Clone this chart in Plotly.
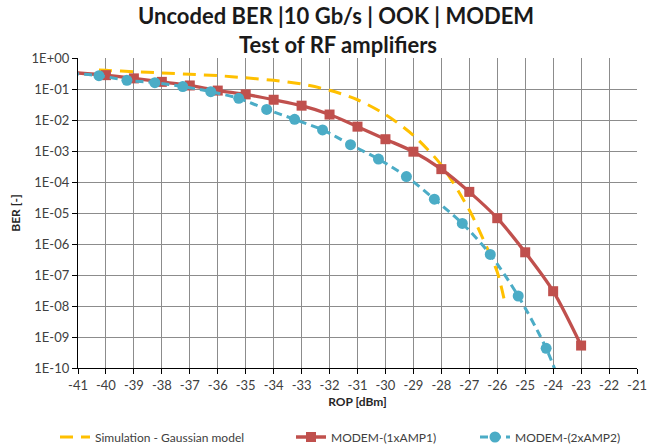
import plotly.graph_objects as go

# ---------------- data ----------------
sim_x = [-40.25, -40, -39, -38, -37, -36, -35, -34, -33, -32, -31, -30, -29, -28, -27, -26.5, -26, -25.75]
sim_y = [0.41, 0.40, 0.36, 0.33, 0.30, 0.27, 0.23, 0.19, 0.145, 0.091, 0.045, 0.015, 3.2e-3, 3.5e-4,
         1.25e-5, 1.4e-6, 1.25e-7, 1.6e-8]

amp1_x = [-41.25, -40, -39, -38, -37, -36, -35, -34, -33, -32, -31, -30, -29, -28, -27, -26, -25, -24, -23]
amp1_y = [0.34, 0.28, 0.22, 0.17, 0.13, 0.089, 0.067, 0.045, 0.029, 0.015, 6.1e-3, 2.4e-3, 9.5e-4,
          2.6e-4, 4.8e-5, 6.8e-6, 5.4e-7, 3.0e-8, 5.3e-10]

amp2_x = [-41.25, -40.25, -39.25, -38.25, -37.25, -36.25, -35.25, -34.25, -33.25, -32.25, -31.25,
          -30.25, -29.25, -28.25, -27.25, -26.25, -25.25, -24.25, -23.25]
amp2_y = [0.32, 0.27, 0.19, 0.16, 0.12, 0.082, 0.05, 0.022, 0.0105, 4.8e-3, 1.6e-3, 5.5e-4, 1.5e-4,
          2.8e-5, 4.6e-6, 4.6e-7, 2.1e-8, 4.3e-10, 2e-12]

series_names = ["Simulation - Gaussian model", "MODEM-(1xAMP1)", "MODEM-(2xAMP2)"]

x_ticks = list(range(-41, -20))
x_tick_text = [str(v) for v in x_ticks]
y_ticks = [1, 1e-1, 1e-2, 1e-3, 1e-4, 1e-5, 1e-6, 1e-7, 1e-8, 1e-9, 1e-10]
y_tick_text = ["1E+00", "1E-01", "1E-02", "1E-03", "1E-04", "1E-05", "1E-06", "1E-07", "1E-08", "1E-09", "1E-10"]

title_lines = ["Uncoded BER |10 Gb/s | OOK | MODEM", "Test of RF amplifiers"]
x_title = "ROP [dBm]"
y_title = "BER [-]"

# ---------------- figure ----------------
YELLOW = "#FFC000"
RED = "#C0504D"
BLUE = "#4BACC6"
FONT = "Lato"

fig = go.Figure()
fig.add_trace(go.Scatter(
    x=sim_x, y=sim_y, mode="lines", name=series_names[0],
    line=dict(color=YELLOW, width=3, dash="13px,8px", shape="spline", smoothing=0.8),
    legend="legend",
))
fig.add_trace(go.Scatter(
    x=amp1_x, y=amp1_y, mode="lines+markers", name=series_names[1],
    line=dict(color=RED, width=3.3, shape="spline", smoothing=0.8),
    marker=dict(symbol="square", size=10, color=RED),
    legend="legend2",
))
fig.add_trace(go.Scatter(
    x=amp2_x, y=amp2_y, mode="lines+markers", name=series_names[2],
    line=dict(color=BLUE, width=3, dash="8px,5px", shape="spline", smoothing=0.8),
    marker=dict(symbol="circle", size=11, color=BLUE),
    legend="legend3",
))

W, H = 648, 446
L, R, T, B = 78, 11, 58, 78
pw, ph = W - L - R, H - T - B


def px_x(p):
    return (p - L) / pw


def px_y(p):
    return (H - B - p) / ph


leg_font = dict(size=12, color="#404040")
fig.update_layout(
    width=W, height=H,
    margin=dict(l=L, r=R, t=T, b=B, pad=0, autoexpand=False),
    paper_bgcolor="white", plot_bgcolor="white",
    font=dict(family=FONT, size=12, color="#404040"),
    showlegend=True,
    legend=dict(orientation="h", x=px_x(55), y=px_y(437), xanchor="left", yanchor="middle",
                font=leg_font, bgcolor="rgba(0,0,0,0)"),
    legend2=dict(orientation="h", x=px_x(291), y=px_y(437), xanchor="left", yanchor="middle",
                 font=leg_font, bgcolor="rgba(0,0,0,0)"),
    legend3=dict(orientation="h", x=px_x(475), y=px_y(437), xanchor="left", yanchor="middle",
                 font=leg_font, bgcolor="rgba(0,0,0,0)"),
    annotations=[
        dict(text="<b>" + title_lines[0] + "</b>", x=px_x(336), y=px_y(16), xref="paper", yref="paper",
             showarrow=False, xanchor="center", yanchor="middle", font=dict(size=22, color="#1a1a1a")),
        dict(text="<b>" + title_lines[1] + "</b>", x=px_x(338), y=px_y(44), xref="paper", yref="paper",
             showarrow=False, xanchor="center", yanchor="middle", font=dict(size=22, color="#1a1a1a")),
    ],
)

fig.update_xaxes(
    range=[-41, -21], tickvals=x_ticks, ticktext=x_tick_text,
    showgrid=True, gridcolor="#8c8c8c", gridwidth=1,
    showline=True, linecolor="black", linewidth=1.3,
    ticks="outside", ticklen=5, tickcolor="black", tickwidth=1,
    tickfont=dict(size=13, color="#404040"),
    zeroline=False,
    title=dict(text="<b>" + x_title + "</b>", font=dict(size=12, color="#262626"), standoff=5),
)
fig.update_yaxes(
    type="log", range=[-10, 0], tickvals=y_ticks, ticktext=y_tick_text,
    showgrid=True, gridcolor="#8c8c8c", gridwidth=1,
    showline=True, linecolor="black", linewidth=1.3,
    ticks="outside", ticklen=5, tickcolor="black", tickwidth=1,
    tickfont=dict(size=13, color="#404040"),
    zeroline=False,
    title=dict(text="<b>" + y_title + "</b>", font=dict(size=12, color="#262626"), standoff=8),
)

fig.write_html("out.html")
